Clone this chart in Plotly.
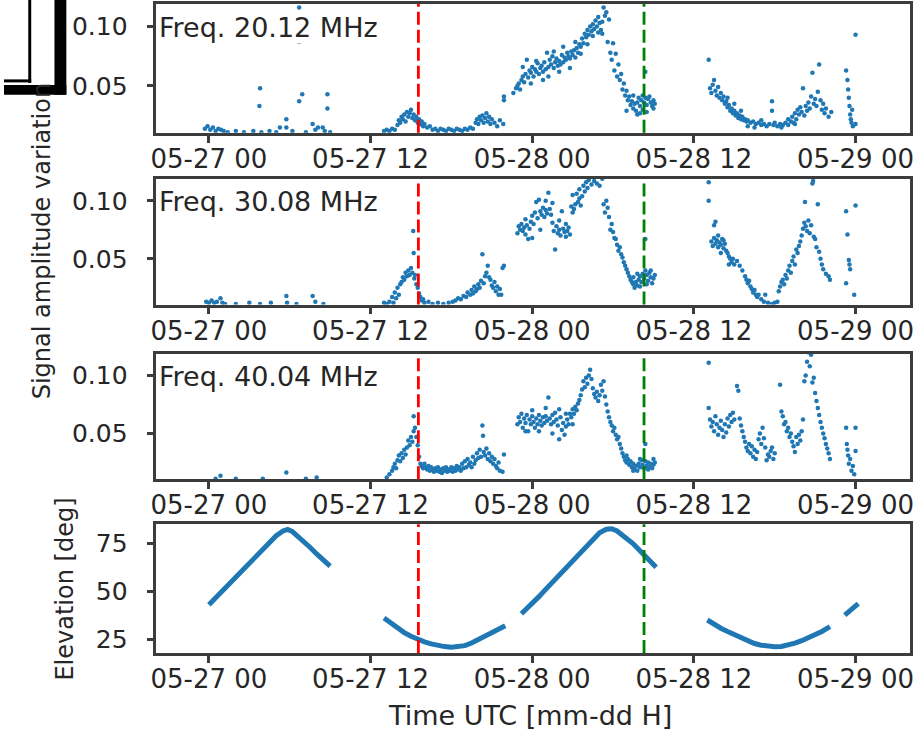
import pandas as pd
import plotly.graph_objects as go

# ---------------- data (hours after 2023-05-27 00:00 UTC) ----------------
BASE = pd.Timestamp("2023-05-27 00:00")

tick_hours = [0, 12, 24, 36, 48]
tick_labels = ["05-27 00", "05-27 12", "05-28 00", "05-28 12", "05-29 00"]

event_red_h = 15.55
event_green_h = 32.3

freq_labels = ["Freq. 20.12 MHz", "Freq. 30.08 MHz", "Freq. 40.04 MHz"]

freq20_points = [
    (-0.3,0.014),(-0.1,0.016),(0.1,0.013),(0.3,0.015),(0.5,0.012),(0.7,0.014),(0.9,0.013),(1.1,0.012),
    (1.4,0.011),(2.0,0.012),(2.6,0.011),(3.3,0.012),(3.8,0.048),(3.75,0.033),(3.9,0.011),(4.5,0.012),
    (5.0,0.011),(5.27,0.015),(5.75,0.022),(5.75,0.015),(6.2,0.012),(6.7,0.116),(6.7,0.087),(6.93,0.043),
    (6.7,0.037),(7.2,0.011),(7.7,0.018),(7.9,0.013),(8.1,0.015),(8.45,0.015),(8.8,0.043),(8.8,0.031),
    (8.6,0.012),(9.0,0.011),
    (13.0,0.012),(13.2,0.013),(13.4,0.012),(13.6,0.014),(13.8,0.013),(14.0,0.017),(14.1,0.021),(14.2,0.019),
    (14.3,0.024),(14.4,0.022),(14.5,0.026),(14.6,0.020),(14.7,0.028),(14.8,0.024),(14.9,0.027),(15.0,0.030),
    (15.1,0.023),(15.2,0.026),(15.3,0.021),(15.4,0.024),(15.5,0.019),(15.6,0.022),(15.7,0.018),(15.8,0.020),
    (15.9,0.016),(16.0,0.018),(16.2,0.015),(16.4,0.016),(16.6,0.013),(16.8,0.014),(17.0,0.012),(17.2,0.014),
    (17.4,0.013),(17.6,0.012),(17.8,0.014),(18.0,0.013),(18.2,0.012),(18.4,0.014),(18.6,0.013),(18.8,0.012),
    (19.0,0.014),(19.2,0.013),(19.4,0.015),(19.6,0.014),(19.8,0.019),(19.9,0.022),(20.0,0.018),(20.1,0.024),
    (20.2,0.021),(20.3,0.025),(20.4,0.019),(20.5,0.023),(20.6,0.027),(20.7,0.020),(20.8,0.024),(20.9,0.018),
    (21.0,0.022),(21.2,0.019),(21.4,0.016),(21.6,0.021),(21.9,0.038),(21.9,0.041),(21.85,0.018),
    (22.6,0.044),(22.8,0.048),(22.9,0.050),(23.0,0.052),(23.1,0.047),(23.2,0.055),(23.3,0.058),(23.4,0.053),
    (23.5,0.060),(23.6,0.072),(23.7,0.057),(23.8,0.063),(23.9,0.061),(24.0,0.066),(24.1,0.058),(24.2,0.064),
    (24.3,0.062),(24.4,0.069),(24.5,0.060),(24.6,0.065),(24.7,0.067),(24.8,0.062),(24.9,0.070),(25.0,0.064),
    (25.1,0.078),(25.2,0.066),(25.3,0.072),(25.4,0.068),(25.5,0.075),(25.6,0.065),(25.7,0.070),(25.8,0.073),
    (25.9,0.067),(26.0,0.071),(26.1,0.068),(26.2,0.076),(26.3,0.070),(26.4,0.074),(26.5,0.072),(26.6,0.078),
    (26.7,0.075),(26.8,0.073),(26.9,0.079),(27.0,0.076),(27.1,0.080),(27.2,0.074),(27.3,0.082),(27.4,0.078),
    (27.5,0.085),(27.6,0.083),(27.7,0.090),(27.8,0.086),(27.9,0.094),(28.0,0.091),(28.1,0.097),(28.2,0.093),
    (28.3,0.100),(28.4,0.096),(28.5,0.102),(28.6,0.098),(28.7,0.105),(28.8,0.100),(28.9,0.108),(29.0,0.103),
    (29.1,0.097),(29.2,0.094),(29.3,0.116),(29.4,0.109),(29.5,0.112),(29.6,0.087),(29.7,0.106),(29.8,0.078),
    (29.9,0.072),(30.0,0.086),(30.1,0.063),(30.2,0.077),(30.3,0.058),(30.4,0.068),(30.5,0.055),(30.6,0.060),
    (30.7,0.047),(30.8,0.052),(30.9,0.042),(31.0,0.046),(31.1,0.038),(31.2,0.041),(31.3,0.034),(31.4,0.037),
    (31.5,0.031),(31.6,0.035),(31.7,0.029),(31.8,0.036),(31.9,0.040),(32.0,0.033),(32.1,0.038),(32.2,0.042),
    (32.3,0.036),(32.4,0.062),(32.4,0.040),(32.5,0.034),(32.6,0.039),(32.7,0.041),(32.8,0.036),(32.9,0.033),
    (33.0,0.038),(33.1,0.035),
    (23.3,0.066),(23.9,0.052),(24.3,0.071),(24.8,0.055),(25.2,0.058),(25.6,0.079),(26.0,0.062),(26.3,0.083),
    (26.8,0.065),(27.2,0.087),(27.6,0.077),(28.1,0.085),(28.5,0.092),(28.9,0.095),(29.2,0.104),
    (31.0,0.029),(31.5,0.042),(32.0,0.027),(32.5,0.028),(33.0,0.031),(32.2,0.030),(31.8,0.026),
    (37.1,0.072),(37.2,0.048),(37.3,0.044),(37.4,0.051),(37.5,0.055),(37.6,0.046),(37.7,0.042),(37.8,0.049),
    (37.9,0.040),(38.0,0.044),(38.1,0.038),(38.2,0.041),(38.3,0.035),(38.4,0.037),(38.5,0.032),(38.6,0.034),
    (38.7,0.029),(38.8,0.031),(38.9,0.027),(39.0,0.029),(39.1,0.025),(39.2,0.027),(39.3,0.023),(39.4,0.025),
    (39.5,0.022),(39.6,0.024),(39.7,0.021),(39.8,0.022),(39.9,0.020),(40.0,0.021),(40.2,0.019),(40.4,0.020),
    (40.6,0.018),(40.8,0.019),(41.0,0.017),(41.2,0.018),(41.4,0.016),(41.6,0.018),(41.8,0.037),(41.8,0.029),
    (41.9,0.017),(42.0,0.019),(42.2,0.016),(42.4,0.018),(42.6,0.017),(42.8,0.019),(43.0,0.017),(43.2,0.020),
    (43.3,0.024),(43.4,0.019),(43.5,0.027),(43.6,0.022),(43.7,0.030),(43.8,0.026),(43.9,0.032),(44.0,0.028),
    (44.1,0.048),(44.2,0.025),(44.3,0.033),(44.4,0.029),(44.5,0.036),(44.6,0.031),(44.7,0.041),(44.8,0.061),
    (44.9,0.035),(45.0,0.039),(45.1,0.033),(45.2,0.045),(45.3,0.068),(45.4,0.038),(45.5,0.030),(45.6,0.035),
    (45.7,0.027),(45.8,0.031),(46.0,0.024),(46.2,0.028),(47.3,0.063),(47.4,0.055),(47.45,0.047),(47.5,0.040),
    (47.55,0.033),(47.6,0.026),(47.65,0.022),(47.7,0.019),(47.75,0.030),(47.8,0.016),(48.0,0.093),(48.0,0.018),
    (38.5,0.040),(39.0,0.035),(39.5,0.029),(40.0,0.016),(40.5,0.015),(41.0,0.021),(42.5,0.015),(43.0,0.022),
    (43.5,0.018),
]

freq30_points = [
    (-0.2,0.013),(0.0,0.012),(0.2,0.014),(0.4,0.012),(0.6,0.013),(0.86,0.016),(1.0,0.012),(1.2,0.011),
    (2.0,0.011),(3.0,0.012),(3.8,0.011),(4.6,0.012),(5.75,0.018),(5.8,0.012),(6.5,0.011),(7.7,0.018),
    (7.9,0.013),(8.5,0.011),
    (13.0,0.012),(13.2,0.011),(13.4,0.013),(13.6,0.017),(13.7,0.012),(13.8,0.021),(13.9,0.016),(14.0,0.025),
    (14.1,0.019),(14.2,0.028),(14.3,0.030),(14.4,0.034),(14.5,0.032),(14.6,0.038),(14.7,0.035),(14.8,0.040),
    (14.9,0.036),(15.0,0.042),(15.1,0.038),(15.17,0.074),(15.2,0.055),(15.25,0.033),(15.3,0.036),(15.4,0.028),
    (15.5,0.025),(15.6,0.020),(15.7,0.017),(15.8,0.014),(15.9,0.015),(16.0,0.012),(16.3,0.013),(16.6,0.011),
    (17.0,0.012),(17.4,0.011),(17.8,0.012),(18.1,0.013),(18.3,0.014),(18.5,0.016),(18.7,0.015),(18.9,0.018),
    (19.1,0.017),(19.2,0.021),(19.4,0.019),(19.5,0.023),(19.6,0.020),(19.7,0.026),(19.8,0.022),(19.9,0.024),
    (20.0,0.028),(20.1,0.025),(20.2,0.031),(20.3,0.054),(20.4,0.029),(20.5,0.035),(20.6,0.038),(20.7,0.044),
    (20.8,0.034),(20.9,0.032),(21.0,0.027),(21.1,0.025),(21.2,0.030),(21.3,0.022),(21.4,0.026),(21.5,0.019),
    (21.6,0.024),(21.8,0.042),(21.9,0.044),(21.7,0.019),
    (22.9,0.072),(23.0,0.078),(23.1,0.075),(23.2,0.080),(23.3,0.074),(23.4,0.077),(23.5,0.071),(23.6,0.079),
    (23.7,0.067),(23.8,0.076),(23.9,0.082),(24.0,0.087),(24.1,0.080),(24.2,0.090),(24.3,0.099),(24.4,0.085),
    (24.5,0.101),(24.6,0.091),(24.7,0.088),(24.8,0.094),(24.9,0.086),(25.0,0.092),(25.1,0.089),(25.2,0.107),
    (25.3,0.093),(25.4,0.088),(25.5,0.081),(25.6,0.074),(25.7,0.058),(25.8,0.078),(25.9,0.072),(26.0,0.075),
    (26.1,0.070),(26.2,0.091),(26.3,0.076),(26.4,0.073),(26.5,0.080),(26.6,0.074),(26.7,0.077),(26.8,0.071),
    (26.9,0.095),(27.0,0.090),(27.1,0.093),(27.2,0.097),(27.3,0.106),(27.4,0.099),(27.5,0.102),(27.6,0.096),
    (27.7,0.104),(27.8,0.113),(27.9,0.108),(28.0,0.116),(28.1,0.111),(28.2,0.118),(28.4,0.114),(28.6,0.117),
    (28.8,0.115),(29.0,0.113),(29.2,0.119),(29.3,0.097),(29.4,0.090),(29.5,0.100),(29.6,0.094),(29.7,0.086),
    (29.8,0.075),(29.9,0.080),(30.0,0.073),(30.1,0.068),(30.2,0.067),(30.3,0.062),(30.4,0.057),(30.5,0.060),
    (30.6,0.054),(30.7,0.051),(30.8,0.047),(30.9,0.044),(31.0,0.041),(31.1,0.038),(31.2,0.035),(31.3,0.032),
    (31.4,0.030),(31.5,0.028),(31.6,0.025),(31.7,0.030),(31.8,0.027),(31.9,0.032),(32.0,0.035),(32.1,0.030),
    (32.2,0.037),(32.3,0.033),(32.4,0.067),(32.4,0.040),(32.5,0.036),(32.6,0.031),(32.7,0.038),(32.8,0.034),
    (32.9,0.029),(33.0,0.033),(33.1,0.036),
    (23.5,0.084),(24.0,0.068),(24.6,0.075),(25.0,0.100),(25.5,0.098),(26.0,0.083),(26.5,0.069),(27.0,0.105),
    (27.5,0.110),(31.5,0.034),(32.0,0.026),(32.5,0.028),(32.8,0.040),(31.8,0.037),
    (37.1,0.116),(37.1,0.100),(37.6,0.082),(37.5,0.079),(37.3,0.065),(37.4,0.061),(37.5,0.068),(37.6,0.063),
    (37.7,0.066),(37.8,0.060),(37.9,0.064),(38.0,0.062),(38.1,0.067),(38.2,0.059),(38.3,0.063),(38.4,0.057),
    (38.5,0.055),(38.6,0.052),(38.7,0.050),(38.8,0.047),(38.9,0.050),(39.0,0.045),(39.2,0.048),(39.4,0.044),
    (39.6,0.040),(39.8,0.035),(39.9,0.032),(40.0,0.029),(40.1,0.031),(40.2,0.026),(40.3,0.024),(40.4,0.021),
    (40.5,0.023),(40.6,0.019),(40.7,0.017),(40.8,0.019),(41.0,0.015),(41.2,0.013),(41.3,0.019),(41.5,0.012),
    (41.8,0.011),(42.0,0.012),(42.2,0.013),(42.3,0.022),(42.4,0.026),(42.5,0.030),(42.6,0.032),(42.7,0.028),
    (42.8,0.036),(42.9,0.033),(43.0,0.040),(43.1,0.044),(43.2,0.038),(43.3,0.048),(43.4,0.052),(43.5,0.045),
    (43.6,0.058),(43.7,0.055),(43.8,0.061),(43.9,0.065),(44.0,0.070),(44.1,0.076),(44.2,0.081),(44.25,0.099),
    (44.3,0.078),(44.4,0.074),(44.5,0.083),(44.6,0.072),(44.7,0.079),(44.8,0.115),(44.85,0.117),(44.9,0.069),
    (45.0,0.067),(45.1,0.060),(45.2,0.097),(45.3,0.056),(45.4,0.050),(45.5,0.045),(45.6,0.041),(45.8,0.037),
    (46.0,0.035),(46.1,0.032),(47.3,0.091),(47.4,0.071),(47.5,0.049),(47.55,0.045),(47.6,0.041),(47.3,0.029),
    (48.0,0.096),(47.9,0.019),
    (37.8,0.070),(38.2,0.066),(38.0,0.055),(38.6,0.045),
]

freq40_points = [
    (0.86,0.0136),(0.5,0.011),(2.0,0.011),(4.0,0.011),(5.75,0.0165),(7.2,0.011),(8.0,0.012),
    (13.2,0.012),(13.4,0.015),(13.6,0.018),(13.7,0.021),(13.8,0.024),(13.9,0.020),(14.0,0.027),(14.1,0.031),
    (14.2,0.026),(14.3,0.033),(14.4,0.029),(14.5,0.036),(14.6,0.032),(14.7,0.038),(14.8,0.044),(14.9,0.040),
    (15.0,0.047),(15.1,0.043),(15.2,0.052),(15.2,0.065),(15.3,0.055),(15.4,0.047),(15.5,0.040),(15.6,0.030),
    (15.7,0.024),(15.8,0.022),(15.9,0.020),(16.0,0.024),(16.1,0.021),(16.2,0.019),(16.3,0.022),(16.4,0.018),
    (16.5,0.021),(16.6,0.019),(16.7,0.017),(16.8,0.020),(16.9,0.018),(17.0,0.021),(17.1,0.017),(17.2,0.019),
    (17.3,0.016),(17.4,0.020),(17.5,0.018),(17.6,0.021),(17.7,0.017),(17.8,0.019),(17.9,0.018),(18.0,0.021),
    (18.1,0.017),(18.2,0.020),(18.3,0.018),(18.4,0.022),(18.5,0.019),(18.6,0.021),(18.7,0.018),(18.8,0.024),
    (18.9,0.020),(19.0,0.026),(19.1,0.021),(19.2,0.028),(19.3,0.023),(19.4,0.025),(19.5,0.021),(19.6,0.030),
    (19.7,0.024),(19.8,0.027),(19.9,0.033),(20.0,0.029),(20.1,0.036),(20.2,0.030),(20.3,0.057),(20.35,0.048),
    (20.4,0.034),(20.5,0.031),(20.6,0.037),(20.7,0.028),(20.8,0.033),(20.9,0.026),(21.0,0.030),(21.1,0.024),
    (21.2,0.028),(21.3,0.022),(21.4,0.020),(21.5,0.025),(21.6,0.018),(21.9,0.032),(21.8,0.017),
    (22.9,0.058),(23.0,0.064),(23.1,0.060),(23.2,0.067),(23.3,0.055),(23.4,0.063),(23.5,0.059),(23.6,0.066),
    (23.7,0.052),(23.8,0.062),(23.9,0.058),(24.0,0.065),(24.1,0.060),(24.2,0.055),(24.3,0.063),(24.4,0.058),
    (24.5,0.066),(24.6,0.061),(24.7,0.057),(24.8,0.064),(24.9,0.059),(25.0,0.065),(25.1,0.061),(25.2,0.081),
    (25.3,0.063),(25.4,0.058),(25.5,0.066),(25.6,0.060),(25.7,0.068),(25.8,0.062),(25.9,0.057),(26.0,0.071),
    (26.1,0.064),(26.2,0.053),(26.3,0.059),(26.4,0.049),(26.5,0.056),(26.6,0.062),(26.7,0.058),(26.8,0.067),
    (26.9,0.064),(27.0,0.071),(27.1,0.067),(27.2,0.073),(27.3,0.070),(27.4,0.076),(27.5,0.079),(27.6,0.083),
    (27.7,0.088),(27.8,0.095),(27.9,0.090),(28.0,0.098),(28.1,0.093),(28.2,0.100),(28.3,0.105),(28.4,0.097),
    (28.5,0.089),(28.6,0.084),(28.7,0.081),(28.8,0.086),(28.9,0.078),(29.0,0.083),(29.1,0.092),(29.2,0.087),
    (29.3,0.095),(29.4,0.082),(29.5,0.075),(29.6,0.069),(29.7,0.064),(29.8,0.060),(29.9,0.057),(30.0,0.052),
    (30.1,0.055),(30.2,0.049),(30.3,0.045),(30.4,0.047),(30.5,0.041),(30.6,0.037),(30.7,0.033),(30.8,0.030),
    (30.9,0.027),(31.0,0.025),(31.1,0.028),(31.2,0.023),(31.3,0.026),(31.4,0.021),(31.5,0.024),(31.6,0.019),
    (31.7,0.022),(31.8,0.018),(31.9,0.024),(32.0,0.021),(32.1,0.027),(32.2,0.023),(32.3,0.020),(32.4,0.041),
    (32.4,0.026),(32.5,0.022),(32.6,0.025),(32.7,0.021),(32.8,0.024),(32.9,0.020),(33.0,0.023),(33.1,0.025),
    (23.5,0.052),(24.0,0.070),(24.5,0.052),(25.0,0.072),(25.5,0.050),(26.0,0.045),(26.5,0.067),(27.0,0.058),
    (31.0,0.031),(31.5,0.018),(32.0,0.028),(32.6,0.019),(33.0,0.028),
    (37.1,0.111),(37.1,0.072),(37.2,0.062),(37.3,0.056),(37.4,0.060),(37.5,0.052),(37.6,0.065),(37.7,0.058),
    (37.8,0.049),(37.9,0.055),(38.0,0.061),(38.1,0.053),(38.2,0.047),(38.3,0.058),(38.4,0.051),(38.5,0.063),
    (38.6,0.056),(38.7,0.066),(38.8,0.060),(38.9,0.068),(39.0,0.062),(39.2,0.091),(39.3,0.087),(39.4,0.063),
    (39.5,0.057),(39.6,0.052),(39.7,0.047),(39.8,0.043),(39.9,0.038),(40.0,0.035),(40.1,0.041),(40.2,0.033),
    (40.3,0.039),(40.4,0.030),(40.5,0.036),(40.6,0.028),(40.7,0.034),(40.8,0.045),(40.9,0.050),(41.0,0.041),
    (41.1,0.055),(41.2,0.046),(41.3,0.038),(41.4,0.027),(41.5,0.032),(41.6,0.030),(41.7,0.035),(41.8,0.038),
    (41.9,0.028),(42.0,0.033),(42.4,0.092),(42.5,0.069),(42.6,0.065),(42.7,0.058),(42.8,0.060),(42.9,0.052),
    (43.0,0.055),(43.1,0.047),(43.2,0.050),(43.3,0.043),(43.4,0.039),(43.5,0.034),(43.6,0.047),(43.7,0.041),
    (43.8,0.049),(43.9,0.044),(44.0,0.052),(44.1,0.062),(44.2,0.095),(44.3,0.100),(44.4,0.112),(44.5,0.120),
    (44.6,0.108),(44.7,0.118),(44.8,0.094),(44.9,0.098),(45.0,0.085),(45.1,0.078),(45.2,0.072),(45.3,0.066),
    (45.4,0.060),(45.5,0.055),(45.6,0.050),(45.7,0.046),(45.8,0.041),(45.9,0.037),(46.0,0.033),(46.1,0.028),
    (47.3,0.055),(48.0,0.055),(47.35,0.041),(47.4,0.036),(47.45,0.031),(47.5,0.024),(47.6,0.028),(47.7,0.018),
    (47.8,0.022),(47.9,0.015),(48.0,0.035),
]

# elevation passes: (hour, elevation deg)
elev_segments = [
    [(0.0,43.0),(0.5,46.6),(1.0,50.3),(1.5,53.9),(2.0,57.6),(2.5,61.2),(3.0,64.9),(3.5,68.5),(4.0,72.2),
     (4.5,75.8),(5.0,79.0),(5.5,81.5),(5.85,82.3),(6.2,81.2),(6.5,79.5),(7.0,76.2),(7.5,73.0),(8.0,69.5),
     (8.5,66.3),(9.0,63.2)],
    [(13.0,36.0),(13.5,33.2),(14.0,30.6),(14.5,28.4),(15.0,26.5),(15.5,24.9),(16.0,23.6),(16.5,22.5),
     (17.0,21.7),(17.5,21.1),(18.0,20.8),(18.5,20.9),(19.0,21.6),(19.5,23.0),(20.0,24.7),(20.5,26.6),
     (21.0,28.5),(21.5,30.4),(22.0,32.0)],
    [(23.2,38.3),(23.5,40.3),(24.0,43.4),(24.5,47.2),(25.0,51.0),(25.5,54.8),(26.0,58.6),(26.5,62.3),
     (27.0,66.0),(27.5,69.8),(28.0,73.5),(28.5,77.3),(29.0,80.6),(29.5,82.4),(29.9,82.7),(30.3,81.5),
     (30.7,79.3),(31.0,77.5),(31.5,74.8),(32.0,71.2),(32.5,67.3),(33.0,63.5),(33.2,62.5)],
    [(37.0,35.0),(37.5,32.7),(38.0,30.7),(38.5,29.0),(39.0,27.3),(39.5,25.5),(40.0,24.0),(40.5,22.7),
     (41.0,21.8),(41.5,21.2),(42.0,21.0),(42.5,21.2),(43.0,21.9),(43.5,22.9),(44.0,24.2),(44.5,25.7),
     (45.0,27.3),(45.5,29.0),(46.1,31.5)],
    [(47.2,37.5),(47.7,40.3),(48.2,43.6)],
]

# ---------------- helpers ----------------
def t(h):
    return BASE + pd.Timedelta(hours=h)

BLUE = "#1f77b4"
AX = "#3c3c3c"
TXT = "#262626"
FONT = "DejaVu Sans"
W, H = 923, 736

def px_x(p):
    return p / W

def px_y(p):
    return 1 - p / H

x_dom = [px_x(152), px_x(914)]
y_doms = [
    [px_y(133), px_y(4)],
    [px_y(305), px_y(179)],
    [px_y(480), px_y(354)],
    [px_y(654), px_y(525)],
]

fig = go.Figure()

panels = [freq20_points, freq30_points, freq40_points]
for i, pts in enumerate(panels):
    fig.add_trace(go.Scatter(
        x=[t(h) for h, _ in pts], y=[v for _, v in pts],
        mode="markers", marker=dict(color=BLUE, size=4.5, line=dict(width=0)),
        xaxis="x" if i == 0 else f"x{i+1}", yaxis="y" if i == 0 else f"y{i+1}",
        showlegend=False, cliponaxis=True,
    ))

ex, ey = [], []
for seg in elev_segments:
    for h, e in seg:
        ex.append(t(h)); ey.append(e)
    ex.append(None); ey.append(None)
fig.add_trace(go.Scatter(x=ex, y=ey, mode="lines", line=dict(color=BLUE, width=5),
                         xaxis="x4", yaxis="y4", showlegend=False, connectgaps=False))

x_range = [t(-3.9), t(52.05)]
tickvals = [t(h) for h in tick_hours]

layout = dict(
    width=W, height=H, autosize=False,
    margin=dict(l=0, r=0, t=0, b=0, pad=0),
    paper_bgcolor="white", plot_bgcolor="white",
    font=dict(family=FONT, size=25, color=TXT),
    showlegend=False,
)

for i in range(4):
    xk = "xaxis" if i == 0 else f"xaxis{i+1}"
    yk = "yaxis" if i == 0 else f"yaxis{i+1}"
    xa = "x" if i == 0 else f"x{i+1}"
    ya = "y" if i == 0 else f"y{i+1}"
    layout[xk] = dict(
        domain=x_dom, anchor=ya, type="date", range=x_range,
        tickmode="array", tickvals=tickvals, ticktext=tick_labels,
        showgrid=False, zeroline=False, showline=True, linecolor=AX, linewidth=2.5,
        mirror=True, ticks="outside", ticklen=7, tickwidth=2.5, tickcolor=AX,
        tickfont=dict(family=FONT, size=26, color=TXT), ticklabelstandoff=-6,
    )
    if i < 3:
        yr = [0.0105, 0.119]
        yv = [0.05, 0.10]
        yt = ["0.05", "0.10"]
    else:
        yr = [17.7, 85.0]
        yv = [25, 50, 75]
        yt = ["25", "50", "75"]
    layout[yk] = dict(
        domain=y_doms[i], anchor=xa, range=yr,
        tickmode="array", tickvals=yv, ticktext=yt,
        showgrid=False, zeroline=False, showline=True, linecolor=AX, linewidth=2.5,
        mirror=True, ticks="outside", ticklen=7, tickwidth=2.5, tickcolor=AX,
        tickfont=dict(family=FONT, size=25, color=TXT), ticklabelstandoff=14,
    )

fig.update_layout(**layout)

# event lines
shapes = []
for i in range(4):
    xa = "x" if i == 0 else f"x{i+1}"
    ya = "y" if i == 0 else f"y{i+1}"
    for h, col in [(event_red_h, "#ff0000"), (event_green_h, "#008000")]:
        shapes.append(dict(type="line", xref=xa, yref=f"{ya} domain",
                           x0=t(h), x1=t(h), y0=0, y1=1,
                           line=dict(color=col, width=2.8, dash="13px,5px"), layer="above"))

# black frame fragment at the top-left corner
def rect(x0, x1, y0, y1):
    return dict(type="rect", xref="paper", yref="paper",
                x0=px_x(x0), x1=px_x(x1), y0=px_y(y1), y1=px_y(y0),
                fillcolor="black", line=dict(width=0), layer="above")

shapes += [
    rect(49, 61, -2, 95),
    rect(-2, 61, 85, 95),
    rect(22.5, 25.5, -2, 83),
    rect(-2, 25.5, 79.5, 82.5),
]
fig.update_layout(shapes=shapes)

annotations = []
for i, lbl in enumerate(freq_labels):
    xa = "x" if i == 0 else f"x{i+1}"
    ya = "y" if i == 0 else f"y{i+1}"
    annotations.append(dict(text=lbl, xref=f"{xa} domain", yref=f"{ya} domain",
                            x=0.002, y=1 - 23 / 127, xanchor="left", yanchor="middle",
                            showarrow=False, bgcolor="white", borderpad=0,
                            font=dict(family=FONT, size=27, color=TXT)))

annotations.append(dict(text="Signal amplitude variation", xref="paper", yref="paper",
                        x=px_x(36), y=px_y(242), xanchor="center", yanchor="middle",
                        textangle=-90, showarrow=False,
                        font=dict(family=FONT, size=24, color=TXT)))
annotations.append(dict(text="Elevation [deg]", xref="paper", yref="paper",
                        x=px_x(60), y=px_y(590), xanchor="center", yanchor="middle",
                        textangle=-90, showarrow=False,
                        font=dict(family=FONT, size=24, color=TXT)))
annotations.append(dict(text="Time UTC [mm-dd H]", xref="paper", yref="paper",
                        x=px_x(530), y=px_y(716), xanchor="center", yanchor="middle",
                        showarrow=False, font=dict(family=FONT, size=27, color=TXT)))
fig.update_layout(annotations=annotations)

fig.write_html("out.html")
